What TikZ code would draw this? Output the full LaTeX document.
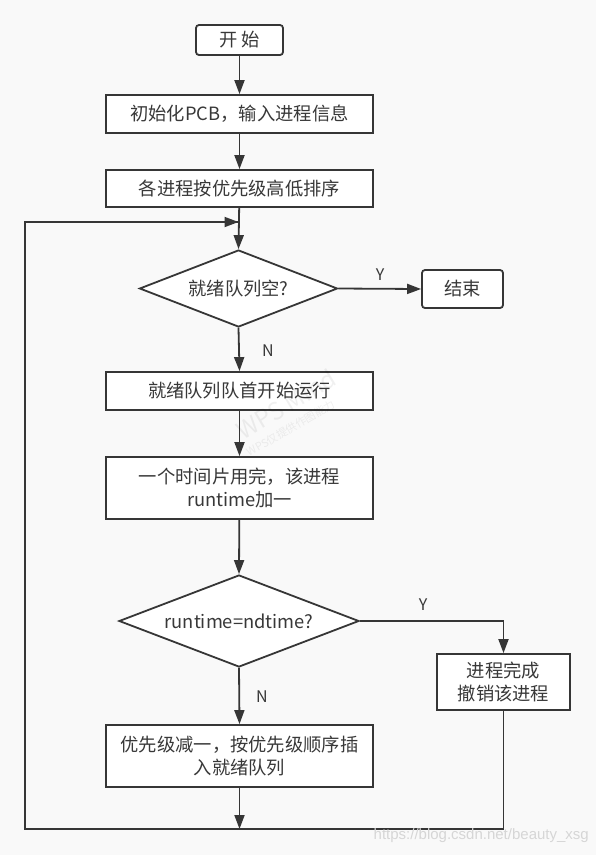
\documentclass[tikz,border=0pt]{standalone}
\usepackage{fontspec}
\setmainfont{Noto Sans CJK SC}
\newfontfamily\wmfont{Liberation Sans}
\usetikzlibrary{shapes.geometric,arrows.meta}
\definecolor{bg}{HTML}{F9F9F9}
\definecolor{ln}{HTML}{363636}
\definecolor{tx}{HTML}{383838}
\definecolor{wm}{HTML}{D6D6D6}
\begin{document}
\begin{tikzpicture}[x=1pt,y=-1pt,
  box/.style={draw=ln,line width=1.8pt,fill=white,text=tx,minimum width=267pt,inner sep=0pt,align=center,font=\fontsize{18.3}{23}\selectfont},
  rbox/.style={box,rounded corners=3pt},
  dia/.style={draw=ln,line width=1.8pt,fill=white,diamond,shape aspect=2.6,inner sep=0pt,text=tx,font=\fontsize{18.3}{23}\selectfont},
  arr/.style={draw=ln,line width=1.8pt,-{Triangle[length=14pt,width=10pt]}},
  conn/.style={draw=ln,line width=1.8pt},
  lab/.style={text=tx,font=\fontsize{16}{16}\selectfont,inner sep=0pt}]
\fill[bg] (0,0) rectangle (596,855);
\useasboundingbox (0,0) rectangle (596,855);

\node[rbox,minimum width=87pt,minimum height=30pt] (start) at (239.5,40) {开 始};
\node[box,minimum height=38pt] (init) at (239.5,114) {初始化PCB，输入进程信息};
\node[box,minimum height=37pt] (sort) at (239.5,188.5) {各进程按优先级高低排序};
\node[dia,minimum width=198pt,minimum height=77pt] (empty) at (238.5,288.5) {就绪队列空?};
\node[rbox,minimum width=81pt,minimum height=38pt] (end) at (462.5,289) {结束};
\node[box,minimum height=38pt] (run) at (239.5,391) {就绪队列队首开始运行};
\node[box,minimum height=62pt] (slice) at (239.5,488) {一个时间片用完，该进程\\runtime加一};
\node[dia,minimum width=240pt,minimum height=92pt] (done) at (239,621) {runtime=ndtime?};
\node[box,minimum width=133pt,minimum height=56pt] (fin) at (503.5,682) {进程完成\\撤销该进程};
\node[box,minimum height=62pt] (requeue) at (239.5,756) {优先级减一，按优先级顺序插\\入就绪队列};

\coordinate (join) at (239.5,222);
\coordinate (bot) at (239.5,829);
\coordinate (botL) at (25,829);
\coordinate (topL) at (25,222);
\coordinate (botR) at (503.5,829);
\coordinate (turnR) at (503.5,621);

\draw[arr] (start) -- (init);
\draw[arr] (init) -- (sort);
\draw[arr] (sort) -- (empty.north);
\draw[arr] (empty.east) -- (end.west);
\draw[arr] (empty.south) -- (run.north);
\draw[arr] (run) -- (slice);
\draw[arr] (slice) -- (done.north);
\draw[arr] (done.east) -- (turnR) -- (fin.north);
\draw[arr] (done.south) -- (requeue.north);
\draw[arr] (requeue) -- (bot);
\draw[conn,line join=miter] (fin.south) -- (botR) -- (botL) -- (topL) -- ([xshift=-1pt]join);
\draw[arr,shorten >=1pt] (topL) -- (join);

\node[lab] (y1) at (380,275) {Y};
\node[lab] (n1) at (268,351) {N};
\node[lab] (y2) at (423,605) {Y};
\node[lab] (n2) at (262,697) {N};

\node[text=wm,font=\wmfont\fontsize{15}{15}\selectfont,anchor=east,inner sep=0pt] (url) at (589,836) {https://blog.csdn.net/beauty\_xsg};
\node[text=black,opacity=0.06,rotate=31,font=\fontsize{24}{24}\selectfont,inner sep=0pt] (wps) at (286,404) {WPS Mind};
\node[text=black,opacity=0.06,rotate=30,font=\fontsize{11}{11}\selectfont,inner sep=0pt] (wps2) at (291,428) {WPS仅提供作图能力};
\end{tikzpicture}
\end{document}
